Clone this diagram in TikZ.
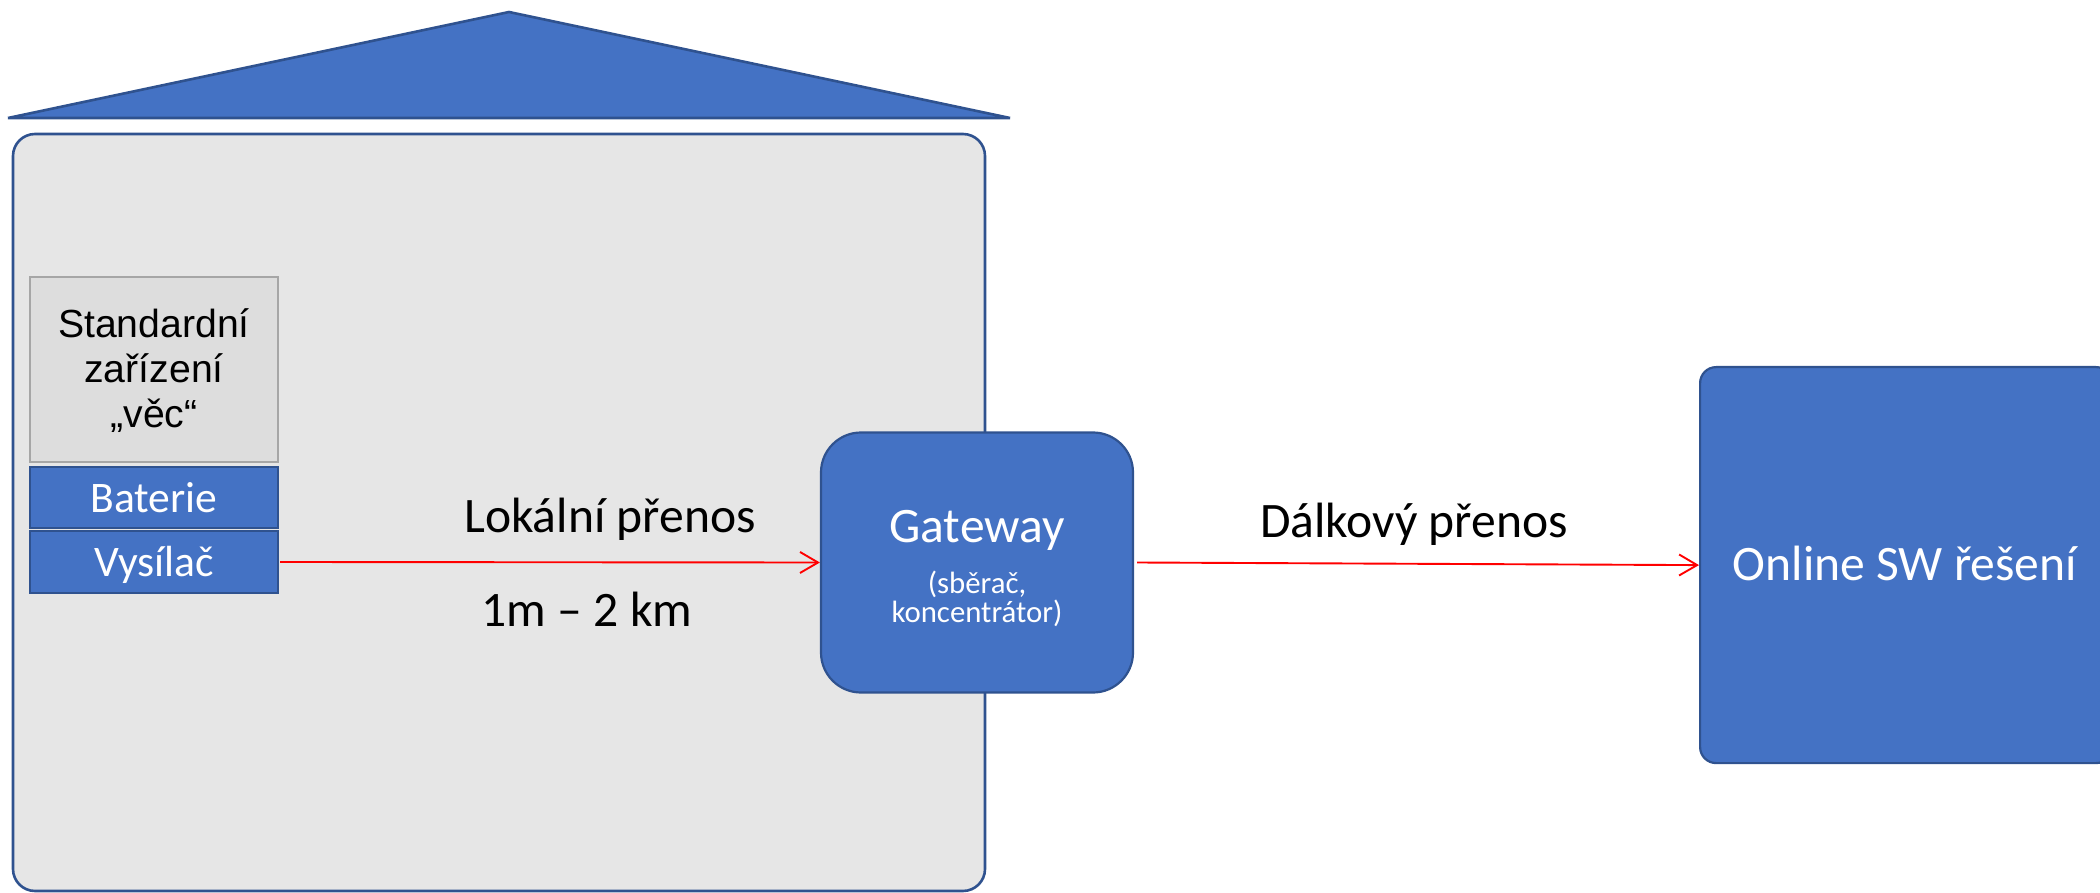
\documentclass[tikz,border=0pt]{standalone}
\usepackage{fontspec}
\setmainfont{Carlito}
\newfontfamily\arialfont{Liberation Sans}
\usetikzlibrary{arrows.meta}
\definecolor{bluefill}{HTML}{4472C4}
\definecolor{blueline}{HTML}{2F528F}
\definecolor{housefill}{HTML}{E6E6E6}
\definecolor{devfill}{HTML}{DDDDDD}
\definecolor{devline}{HTML}{A6A6A6}
\definecolor{arrred}{HTML}{FF0000}
\tikzset{
  bluebox/.style={draw=blueline, fill=bluefill, line width=1.1pt, inner sep=0pt},
  bigtext/.style={font=\fontsize{24.8}{29}\selectfont, inner sep=0pt, anchor=base},
  whitetext/.style={text=white, inner sep=0pt, anchor=base},
  devtext/.style={font=\arialfont\fontsize{19.6}{22}\selectfont, inner sep=0pt, anchor=base},
  redarrow/.style={draw=arrred, line width=0.95pt, -{Straight Barb[length=9pt,width=10.5pt,line width=0.95pt]}},
}
\begin{document}
\begin{tikzpicture}[x=0.5pt,y=-0.5pt]
\useasboundingbox (0,0) rectangle (2100,893);
% roof
\filldraw[draw=blueline, fill=bluefill, line width=1.3pt, line join=bevel] (8,118) -- (509,12) -- (1010,118) -- cycle;
% house body
\draw[draw=blueline, fill=housefill, line width=1.3pt, rounded corners=11pt] (13,134) rectangle (985,891);
% device box
\node[draw=devline, fill=devfill, line width=1.1pt, minimum width=124pt, minimum height=92.5pt, inner sep=0pt] (dev) at (154,369.5) {};
\node[devtext] (dev1) at (154,338) {Standardní};
\node[devtext] (dev2) at (154,383) {zařízení};
\node[devtext] (dev3) at (154,427) {„věc“};
% battery and transmitter
\node[bluebox, minimum width=124pt, minimum height=30.5pt] (bat) at (154,497.5) {};
\node[whitetext, font=\fontsize{21.8}{24}\selectfont] (batt) at (154,512) {Baterie};
\node[bluebox, minimum width=124pt, minimum height=31pt] (vys) at (154,562) {};
\node[whitetext, font=\fontsize{21.8}{24}\selectfont] (vyst) at (154,576) {Vysílač};
% gateway
\node[bluebox, rounded corners=20pt, minimum width=156pt, minimum height=130pt] (gw) at (977,562.5) {};
\node[whitetext, font=\fontsize{24.8}{29}\selectfont] (gwt) at (977,542) {Gateway};
\node[whitetext, font=\fontsize{15.4}{18}\selectfont] (gws1) at (977,593) {(sběrač,};
\node[whitetext, font=\fontsize{15.4}{18}\selectfont] (gws2) at (977,622) {koncentrátor)};
% online
\node[bluebox, rounded corners=8pt, minimum width=206pt, minimum height=198pt, anchor=north west] (onl) at (1699,366) {};
\node[whitetext, font=\fontsize{24.8}{29}\selectfont] (onlt) at (1905,580) {Online SW řešení};
% arrows
\draw[redarrow] ([xshift=0.5pt]vys.east) -- (gw.west);
\draw[redarrow] ([xshift=1.5pt]gw.east) -- (onl.west);
% labels
\node[bigtext] (lok) at (610,532) {Lokální přenos};
\node[bigtext] (dist) at (587,626) {1m – 2 km};
\node[bigtext] (dal) at (1414,537) {Dálkový přenos};
\end{tikzpicture}
\end{document}
